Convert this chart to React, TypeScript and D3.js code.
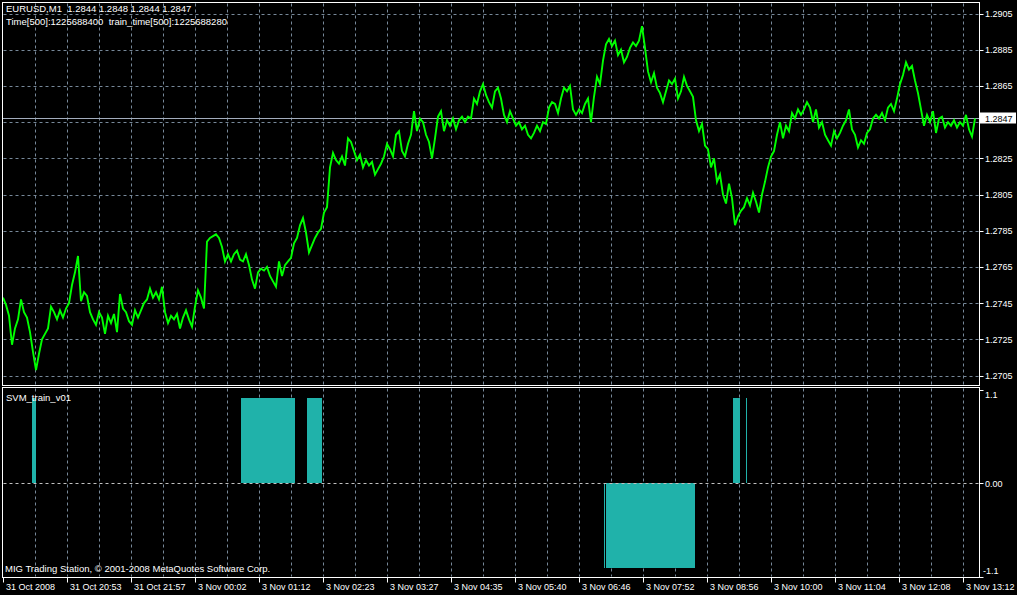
import { useEffect, useRef } from 'react'
import * as d3 from 'd3'

const W = 1017
const H = 595

// EURUSD M1 close, every 3 bars (31 Oct 2008 -> 3 Nov 13:12)
const SAMPLE_STEP = 3
const closes = [
  1.2748, 1.2744, 1.2738, 1.2722, 1.2731, 1.2736, 1.2747, 1.2740, 1.2737, 1.2729,
  1.2718, 1.2708, 1.2717, 1.2725, 1.2728, 1.2731, 1.2743, 1.2740, 1.2736, 1.2741,
  1.2737, 1.2742, 1.2745, 1.2755, 1.2762, 1.2771, 1.2746, 1.2751, 1.2749, 1.2740,
  1.2736, 1.2733, 1.2740, 1.2737, 1.2728, 1.2738, 1.2734, 1.2739, 1.2729, 1.2750,
  1.2742, 1.2740, 1.2735, 1.2733, 1.2741, 1.2737, 1.2741, 1.2745, 1.2747, 1.2753,
  1.2748, 1.2751, 1.2747, 1.2754, 1.2740, 1.2734, 1.2738, 1.2736, 1.2739, 1.2731,
  1.2737, 1.2741, 1.2736, 1.2732, 1.2743, 1.2752, 1.2748, 1.2742, 1.2779, 1.2781,
  1.2782, 1.2783, 1.2781, 1.2776, 1.2768, 1.2772, 1.2768, 1.2772, 1.2774, 1.2769,
  1.2768, 1.2772, 1.2766, 1.2758, 1.2753, 1.2762, 1.2764, 1.2763, 1.2765, 1.2760,
  1.2757, 1.2754, 1.2768, 1.2760, 1.2766, 1.2768, 1.2770, 1.2778, 1.2781, 1.2788,
  1.2792, 1.2784, 1.2773, 1.2777, 1.2781, 1.2784, 1.2786, 1.2795, 1.2798, 1.2820,
  1.2828, 1.2824, 1.2822, 1.2826, 1.2821, 1.2836, 1.2834, 1.2829, 1.2824, 1.2827,
  1.2820, 1.2824, 1.2821, 1.2823, 1.2816, 1.2819, 1.2822, 1.2826, 1.2833, 1.2830,
  1.2826, 1.2838, 1.2840, 1.2829, 1.2826, 1.2833, 1.2838, 1.2851, 1.2840, 1.2847,
  1.2845, 1.2838, 1.2834, 1.2825, 1.2836, 1.2848, 1.2851, 1.2840, 1.2846, 1.2843,
  1.2847, 1.2841, 1.2846, 1.2848, 1.2845, 1.2848, 1.2847, 1.2858, 1.2855, 1.2862,
  1.2866, 1.2860, 1.2856, 1.2853, 1.2862, 1.2864, 1.2858, 1.2849, 1.2845, 1.2851,
  1.2847, 1.2843, 1.2845, 1.2841, 1.2843, 1.2838, 1.2836, 1.2839, 1.2843, 1.2840,
  1.2845, 1.2844, 1.2853, 1.2856, 1.2855, 1.2850, 1.2858, 1.2864, 1.2862, 1.2865,
  1.2852, 1.2849, 1.2852, 1.2850, 1.2855, 1.2858, 1.2845, 1.2859, 1.2870, 1.2866,
  1.2879, 1.2888, 1.2891, 1.2887, 1.2890, 1.2882, 1.2885, 1.2878, 1.2881, 1.2886,
  1.2889, 1.2887, 1.2890, 1.2898, 1.2886, 1.2873, 1.2867, 1.2872, 1.2864, 1.2861,
  1.2856, 1.2862, 1.2868, 1.2866, 1.2869, 1.2858, 1.2862, 1.2870, 1.2865, 1.2862,
  1.2859, 1.2846, 1.2840, 1.2844, 1.2832, 1.2830, 1.2820, 1.2825, 1.2812, 1.2816,
  1.2805, 1.2800, 1.2811, 1.2803, 1.2788, 1.2793, 1.2796, 1.2798, 1.2803, 1.2799,
  1.2806, 1.2801, 1.2795, 1.2805, 1.2812, 1.2820, 1.2826, 1.2829, 1.2838, 1.2845,
  1.2836, 1.2843, 1.2840, 1.2850, 1.2847, 1.2852, 1.2849, 1.2852, 1.2856, 1.2853,
  1.2845, 1.2852, 1.2842, 1.2845, 1.2838, 1.2835, 1.2832, 1.2840, 1.2836, 1.2839,
  1.2843, 1.2846, 1.2852, 1.2841, 1.2838, 1.2831, 1.2835, 1.2833, 1.2839, 1.2841,
  1.2847, 1.2849, 1.2847, 1.2850, 1.2846, 1.2853, 1.2855, 1.2851, 1.2858, 1.2866,
  1.2871, 1.2878, 1.2874, 1.2876, 1.2868, 1.2861, 1.2852, 1.2843, 1.2849, 1.2845,
  1.2851, 1.2839, 1.2847, 1.2848, 1.2842, 1.2845, 1.2843, 1.2846, 1.2842, 1.2845,
  1.2843, 1.2849, 1.2841, 1.2837, 1.2847,
]
const bid = 1.2847

const priceTicks = [1.2905, 1.2885, 1.2865, 1.2845, 1.2825, 1.2805, 1.2785, 1.2765, 1.2745, 1.2725, 1.2705]

// time axis (bar index from left edge, 1 bar = 1 minute)
const timeTickBars = [0, 64, 128, 192, 256, 320, 384, 448, 512, 576, 640, 704, 768, 832, 896, 960]
const timeLabels = [
  '31 Oct 2008', '31 Oct 20:53', '31 Oct 21:57', '3 Nov 00:02', '3 Nov 01:12', '3 Nov 02:23',
  '3 Nov 03:27', '3 Nov 04:35', '3 Nov 05:40', '3 Nov 06:46', '3 Nov 07:52', '3 Nov 08:56',
  '3 Nov 10:00', '3 Nov 11:04', '3 Nov 12:08', '3 Nov 13:12',
]

// SVM_train_v01 histogram runs
const svmStart = [29, 238, 304, 601, 603, 730, 743]
const svmEnd = [33, 292, 319, 602, 692, 737, 744]
const svmValue = [1, 1, 1, -1, -1, 1, 1]
const indTicks = [1.1, 0, -1.1]

const GREEN = '#00ff00'
const TEAL = '#20b2aa'
const GRID = '#778899'
const FONT = '"Liberation Sans", Arial, sans-serif'

export default function App() {
  const ref = useRef<SVGSVGElement | null>(null)

  useEffect(() => {
    if (!ref.current) {return}
    const svg = d3.select(ref.current)
    svg.selectAll('*').remove()

    const left = 2.5
    const right = 979.5
    const mainTop = 2.5
    const mainBottom = 385.5
    const indTop = 387.5
    const indBottom = 577.5

    const x = d3.scaleLinear().domain([0, 976]).range([3, 979])
    const y = d3.scaleLinear().domain([1.2705, 1.2905]).range([375.5, 13.5])
    const yInd = d3.scaleLinear().domain([-1.1, 1.1]).range([576.5, 389.5])
    const crisp = (v: number) => Math.round(v) + 0.5

    svg.append('rect').attr('width', W).attr('height', H).attr('fill', '#000')

    // vertical grid across both panels
    const gridBars = d3.range(32, 976, 32)
    const vg = svg.append('g').attr('stroke', GRID).attr('stroke-dasharray', '3,3')
    for (const [y1, y2] of [[mainTop + 1, mainBottom - 1], [indTop + 1, indBottom - 1]]) {
      vg.append('g')
        .selectAll('line')
        .data(gridBars)
        .join('line')
        .attr('x1', (d) => crisp(x(d)))
        .attr('x2', (d) => crisp(x(d)))
        .attr('y1', y1)
        .attr('y2', y2)
    }

    // horizontal price grid
    svg
      .append('g')
      .attr('stroke', GRID)
      .attr('stroke-dasharray', '3,3')
      .selectAll('line')
      .data(priceTicks)
      .join('line')
      .attr('x1', left + 1)
      .attr('x2', right - 1)
      .attr('y1', (d) => crisp(y(d)))
      .attr('y2', (d) => crisp(y(d)))

    // bid line
    svg
      .append('line')
      .attr('x1', left)
      .attr('x2', right)
      .attr('y1', crisp(y(bid)))
      .attr('y2', crisp(y(bid)))
      .attr('stroke', '#a3adbd')

    svg
      .append('defs')
      .append('clipPath')
      .attr('id', 'main-clip')
      .append('rect')
      .attr('x', left)
      .attr('y', mainTop)
      .attr('width', right - left)
      .attr('height', mainBottom - mainTop)

    const line = d3
      .line<number>()
      .x((_, i) => x(i * SAMPLE_STEP))
      .y((d) => y(d))

    svg
      .append('path')
      .datum(closes)
      .attr('clip-path', 'url(#main-clip)')
      .attr('fill', 'none')
      .attr('stroke', GREEN)
      .attr('stroke-width', 1.9)
      .attr('d', line)

    // price axis labels (the one under the bid marker is hidden, as in the terminal)
    const by = crisp(y(bid))
    const shown = priceTicks.filter((p) => Math.abs(y(p) - by) > 10)
    const pa = svg.append('g').attr('font-family', FONT).attr('font-size', 9)
    pa.selectAll('line')
      .data(priceTicks)
      .join('line')
      .attr('x1', right)
      .attr('x2', right + 4)
      .attr('y1', (d) => crisp(y(d)))
      .attr('y2', (d) => crisp(y(d)))
      .attr('stroke', '#fff')
    pa.selectAll('text')
      .data(shown)
      .join('text')
      .attr('x', 985)
      .attr('y', (d) => y(d) + 3.5)
      .attr('fill', '#fff')
      .text((d) => d.toFixed(4))

    // bid marker
    svg.append('rect').attr('x', 980).attr('y', by - 6).attr('width', 36).attr('height', 11).attr('fill', '#fff')
    svg
      .append('text')
      .attr('x', 985)
      .attr('y', by + 3.5)
      .attr('font-family', FONT)
      .attr('font-size', 9)
      .attr('fill', '#000')
      .text(bid.toFixed(4))

    // indicator histogram
    svg
      .append('g')
      .attr('fill', TEAL)
      .selectAll('rect')
      .data(svmValue)
      .join('rect')
      .attr('x', (_, i) => x(svmStart[i]))
      .attr('width', (_, i) => x(svmEnd[i]) - x(svmStart[i]))
      .attr('y', (d) => Math.min(yInd(d), yInd(0)))
      .attr('height', (d) => Math.abs(yInd(d) - yInd(0)))

    svg
      .append('line')
      .attr('x1', left + 1)
      .attr('x2', right - 1)
      .attr('y1', crisp(yInd(0)))
      .attr('y2', crisp(yInd(0)))
      .attr('stroke', '#c0c0c0')
      .attr('stroke-dasharray', '3,3')

    const ia = svg.append('g').attr('font-family', FONT).attr('font-size', 9)
    ia.selectAll('line')
      .data(indTicks)
      .join('line')
      .attr('x1', right)
      .attr('x2', right + 4)
      .attr('y1', (d) => crisp(yInd(d)))
      .attr('y2', (d) => crisp(yInd(d)))
      .attr('stroke', '#fff')
    ia.selectAll('text')
      .data(indTicks)
      .join('text')
      .attr('x', (d) => (d < 0 ? 983 : 985))
      .attr('y', (d) => Math.min(Math.max(yInd(d) + 3.5, indTop + 10), indBottom - 3.5))
      .attr('fill', '#fff')
      .text((d) => (d === 0 ? d.toFixed(2) : String(d)))

    // panel frames
    const frames = svg.append('g').attr('fill', 'none').attr('stroke', '#fff')
    frames.append('rect').attr('x', left).attr('y', mainTop).attr('width', right - left).attr('height', mainBottom - mainTop)
    frames.append('rect').attr('x', left).attr('y', indTop).attr('width', right - left).attr('height', indBottom - indTop)

    // time axis
    const ta = svg.append('g').attr('font-family', FONT).attr('font-size', 9)
    ta.selectAll('line')
      .data(timeTickBars)
      .join('line')
      .attr('x1', (d) => crisp(x(d)))
      .attr('x2', (d) => crisp(x(d)))
      .attr('y1', indBottom)
      .attr('y2', indBottom + 5)
      .attr('stroke', '#fff')
    ta.selectAll('text')
      .data(timeLabels)
      .join('text')
      .attr('x', (_, i) => x(timeTickBars[i]) + 3)
      .attr('y', 590)
      .attr('fill', '#fff')
      .text((d) => d)

    // captions
    const cap = svg.append('g').attr('font-family', FONT).attr('font-size', 9.5).attr('fill', '#fff')
    const caption = (cx: number, cy: number, s: string) =>
      cap.append('text').attr('x', cx).attr('y', cy).attr('xml:space', 'preserve').style('white-space', 'pre').text(s)
    caption(6, 12, 'EURUSD,M1\u00a0\u00a01.2844 1.2848 1.2844 1.2847')
    caption(6, 25, 'Time[500]:1225688400\u00a0\u00a0train_time[500]:1225688280')
    caption(6, 401, 'SVM_train_v01')
    caption(5, 572, 'MIG Trading Station, © 2001-2008 MetaQuotes Software Corp.')
  }, [])

  return (
    <div style={{ position: 'fixed', left: 0, top: 0, width: W, height: H, background: '#000' }}>
      <svg ref={ref} width={W} height={H} role="img" aria-label="EURUSD M1 chart with SVM_train_v01 indicator" style={{ display: 'block' }} />
    </div>
  )
}
